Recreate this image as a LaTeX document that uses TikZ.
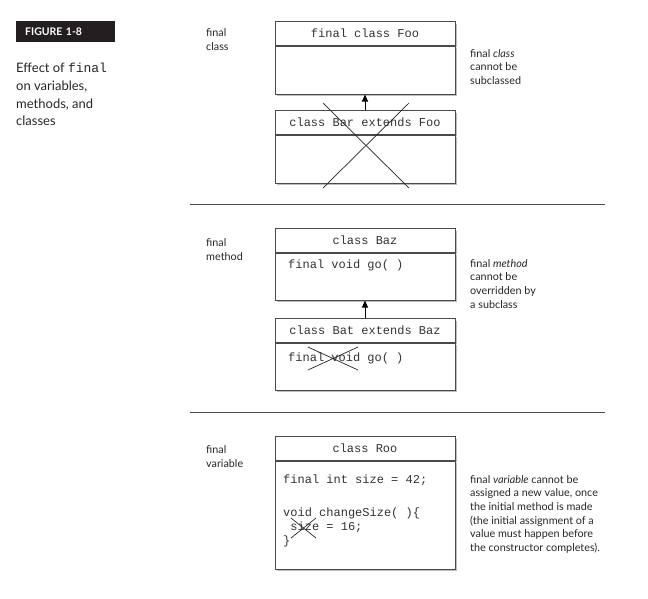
\documentclass[tikz,border=0pt]{standalone}
\usepackage{fontspec}
\setmainfont{Lato}
\setmonofont{Liberation Mono}
\usetikzlibrary{positioning,shadows,arrows.meta}
\definecolor{edge}{HTML}{4A4A4A}
\definecolor{shade}{HTML}{BDBDBD}
\definecolor{figbg}{HTML}{231F20}

\begin{document}
\begin{tikzpicture}[x=1pt,y=-1pt]
      \tikzstyle{header}=[draw=edge, line width=1pt, fill=white, anchor=north, minimum width=180pt, minimum height=23.5pt, inner sep=0pt, font=\fontsize{12}{14}\ttfamily, text=black!80, drop shadow={shadow xshift=2pt, shadow yshift=-2pt, fill=shade, opacity=1}]
      \tikzstyle{body}=[header]
      \tikzstyle{code}=[anchor=base west, inner sep=0pt, font=\fontsize{12}{14}\ttfamily, text=black!80]
      \tikzstyle{label}=[anchor=base west, inner sep=0pt, align=left, font=\fontsize{10.8}{14}\selectfont, text=black!85]
      \tikzstyle{note}=[label, font=\fontsize{10.8}{13.7}\selectfont]
      \tikzstyle{cross}=[line width=0.7pt, black!85]
      \tikzstyle{rule}=[line width=1pt, edge]
      \useasboundingbox (0,0) rectangle (648,598);

      % caption (multi-line nodes sit on their last baseline)
      \node[anchor=north west, fill=figbg, minimum width=99pt, minimum height=21pt, inner xsep=9pt, inner ysep=0pt, text width=81pt, text=white, font=\fontsize{10.5}{12}\bfseries] (fig) at (16,21) {FIGURE 1-8};
      \node[anchor=base west, inner sep=0pt, align=left, font=\fontsize{13}{17.8}\selectfont, text=black!85] (caption) at (16,125.9) {Effect of \texttt{final}\\on variables,\\methods, and\\classes};

      % class boxes
      \foreach \name/\title/\y/\h in {foo/final class Foo/21/48, bar/class Bar extends Foo/110/48, baz/class Baz/228/47, bat/class Bat extends Baz/318/47, roo/class Roo/436/108} {
        \node[header] (\name) at (365,\y) {\title};
        \node[body, minimum height=\h pt, below=0pt of \name] (\name-body) {};
      }

      \foreach \from/\to in {bar/foo-body, bat/baz-body}
        \draw[-{Triangle[length=7pt,width=6pt]}, line width=0.9pt, black] (\from) -- (\to);

      % member lines
      \node[code] (baz-go) at (288,268) {final void go( )};
      \node[code] (bat-go) at (288,361) {final void go( )};
      \node[code] (roo-size) at (283,483) {final int size = 42;};
      \node[code] (roo-change) at (283,516) {void changeSize( )\{};
      \node[code] (roo-set) at (283,530) {\ size = 16;};
      \node[code] (roo-end) at (283,544) {\}};

      % crossed out
      \draw[cross] (323,103) -- (409,188) (409,103) -- (323,188);
      \draw[cross] (308,347) -- (358,370) (308,370) -- (358,347);
      \draw[cross] (291,518) -- (316,538) (291,538) -- (316,518);

      % left and right labels
      \node[label] (l-class) at (206,50) {final\\class};
      \node[label] (l-method) at (206,260) {final\\method};
      \node[label] (l-var) at (206,467) {final\\variable};
      \node[note] (r-class) at (470,84.4) {final \textit{class}\\cannot be\\subclassed};
      \node[note] (r-method) at (470,308.1) {final \textit{method}\\cannot be\\overridden by\\a subclass};
      \node[note] (r-var) at (470,551.5) {final \textit{variable} cannot be\\assigned a new value, once\\the initial method is made\\(the initial assignment of a\\value must happen before\\the constructor completes).};

      % separators
      \draw[rule] (190,204) -- (605,204);
      \draw[rule] (190,412) -- (605,412);
\end{tikzpicture}
\end{document}
